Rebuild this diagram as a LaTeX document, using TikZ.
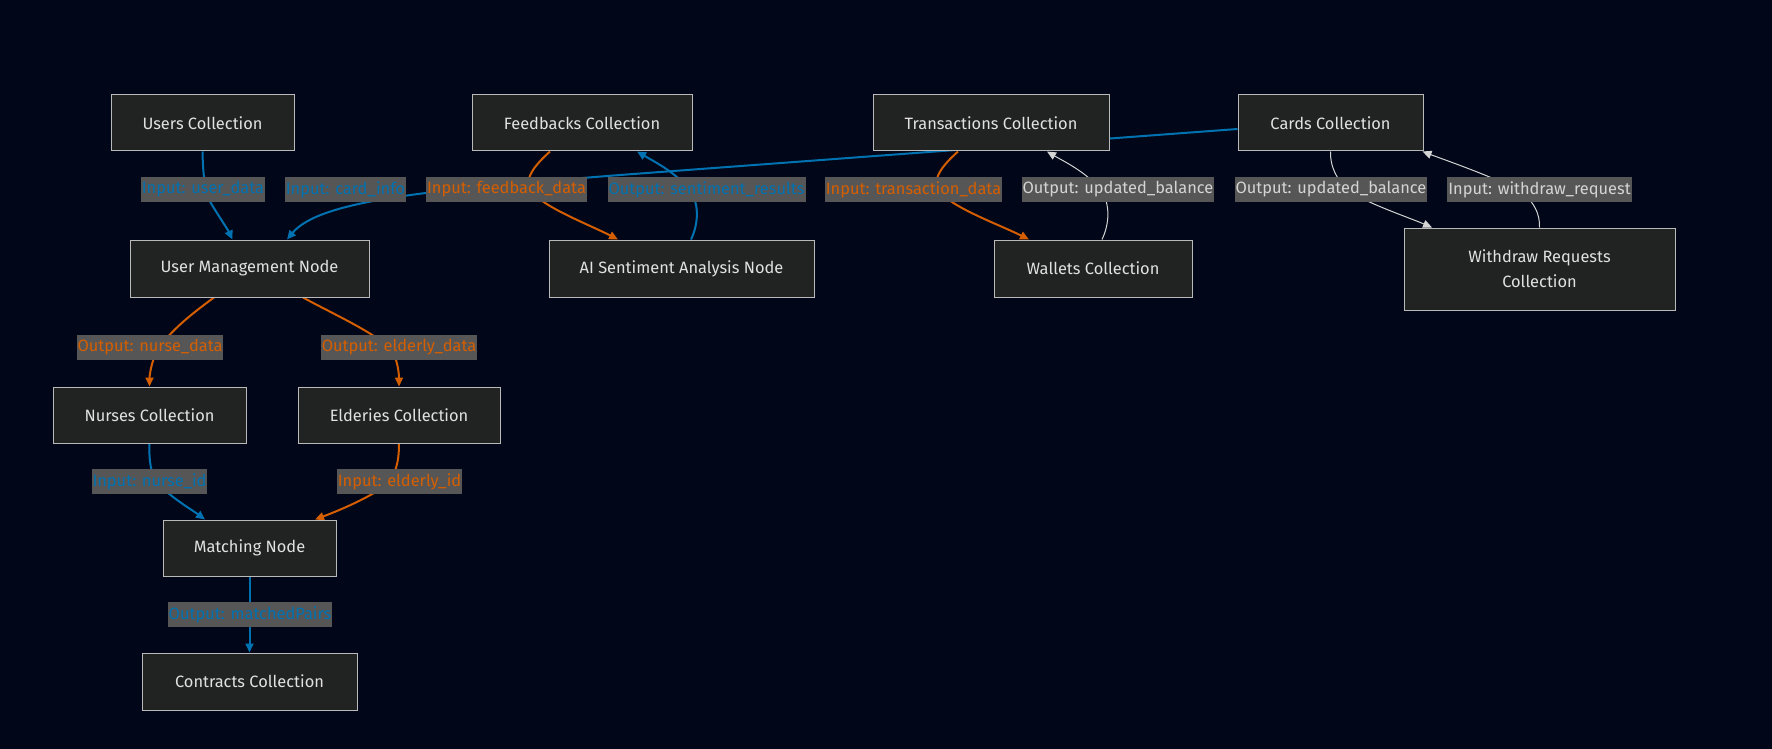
\documentclass[tikz,border=0pt]{standalone}
\usepackage{fontspec}
\setmainfont{Fira Sans}
\usetikzlibrary{arrows.meta}
\definecolor{mmbg}{RGB}{1,7,24}
\definecolor{mmfill}{RGB}{33,34,34}
\definecolor{mmborder}{RGB}{185,185,185}
\definecolor{mmtext}{RGB}{225,225,225}
\definecolor{mmlbl}{RGB}{86,86,86}
\definecolor{mmblue}{RGB}{0,114,178}
\definecolor{mmorange}{RGB}{213,94,0}
\definecolor{mmgray}{RGB}{212,212,212}
\pgfdeclarelayer{back}\pgfdeclarelayer{links}
\pgfsetlayers{back,links,main}

\begin{document}
\begin{tikzpicture}[x=1pt,y=-1pt,font=\fontsize{16.4}{25}\selectfont,
  box/.style={draw=mmborder,line width=1pt,fill=mmfill,text=mmtext,minimum height=56pt,inner sep=0pt,align=center},
  lbl/.style={fill=mmlbl,minimum height=25pt,inner xsep=1pt,inner ysep=0pt},
  link/.style={line width=2pt,-{Triangle[length=9pt,width=8pt]}},
  thinlink/.style={draw=mmgray,line width=1pt,-{Triangle[length=9pt,width=8pt]}}]
  \useasboundingbox (0,0) rectangle (1772,749);
  \begin{pgfonlayer}{back}
    \fill[mmbg] (0,0) rectangle (1772,749);
  \end{pgfonlayer}
  \node[box,minimum width=183pt] (users) at (202.5,123) {Users Collection};
  \node[box,minimum width=220pt] (feed) at (582,123) {Feedbacks Collection};
  \node[box,minimum width=236pt] (trans) at (991,123) {Transactions Collection};
  \node[box,minimum width=185pt] (cards) at (1330.5,123) {Cards Collection};
  \node[box,minimum width=239pt,minimum height=57pt] (um) at (249.5,268.5) {User Management Node};
  \node[box,minimum width=265pt,minimum height=57pt] (ai) at (681.5,268.5) {AI Sentiment Analysis Node};
  \node[box,minimum width=198pt,minimum height=57pt] (wallets) at (1093,268.5) {Wallets Collection};
  \node[box,minimum width=271pt,minimum height=82pt] (withdraw) at (1539.5,269) {Withdraw Requests\\Collection};
  \node[box,minimum width=193pt] (nurses) at (149.5,415) {Nurses Collection};
  \node[box,minimum width=202pt] (elder) at (399,415) {Elderies Collection};
  \node[box,minimum width=173pt] (match) at (249.5,548) {Matching Node};
  \node[box,minimum width=215pt,minimum height=57pt] (contracts) at (249.5,681.5) {Contracts Collection};
  \begin{pgfonlayer}{links}
    \draw[link,mmblue] (users.south) .. controls (203,175) and (205,195) .. (212,205)
      .. controls (220,218) and (228,230) .. ([xshift=-17pt]um.north);
    \draw[link,mmblue] ([yshift=-6pt]cards.west) -- (620,175)
      .. controls (430,190) and (320,200) .. ([xshift=37.5pt]um.north);
    \draw[link,mmorange] ([xshift=-32pt]feed.south) .. controls (535,165) and (522,180) .. (532,192)
      .. controls (545,208) and (590,225) .. ([xshift=-63.5pt]ai.north);
    \draw[link,mmblue] ([xshift=9.5pt]ai.north) .. controls (698,225) and (700,205) .. (690,190)
      .. controls (675,172) and (655,162) .. ([xshift=55pt]feed.south);
    \draw[link,mmorange] ([xshift=-33pt]trans.south) .. controls (943,165) and (930,180) .. (940,192)
      .. controls (953,208) and (1000,225) .. ([xshift=-64pt]wallets.north);
    \draw[thinlink] ([xshift=9pt]wallets.north) .. controls (1109,225) and (1111,205) .. (1101,190)
      .. controls (1086,172) and (1065,162) .. ([xshift=56pt]trans.south);
    \draw[thinlink] (cards.south) .. controls (1330,170) and (1340,185) .. (1355,195)
      .. controls (1380,208) and (1410,218) .. ([xshift=-107.5pt]withdraw.north);
    \draw[thinlink] (withdraw.north) .. controls (1540,215) and (1535,200) .. (1515,188)
      .. controls (1480,172) and (1445,160) .. ([xshift=-1pt]cards.south east);
    \draw[link,mmorange] ([xshift=-35.5pt]um.south) .. controls (190,315) and (165,335) .. (155,355)
      .. controls (150,368) and (149.5,378) .. (nurses.north);
    \draw[link,mmorange] ([xshift=53.5pt]um.south) .. controls (335,315) and (380,335) .. (393,352)
      .. controls (399,365) and (399,378) .. (elder.north);
    \draw[link,mmblue] (nurses.south) .. controls (149,460) and (150,475) .. (160,486)
      .. controls (175,500) and (195,512) .. ([xshift=-44.5pt]match.north);
    \draw[link,mmorange] (elder.south) .. controls (399,462) and (396,475) .. (385,486)
      .. controls (365,500) and (335,512) .. ([xshift=65.5pt]match.north);
    \draw[link,mmblue] (match) -- (contracts);
  \end{pgfonlayer}
  \foreach \i/\pos/\col/\txt in {
      1/{(203,189.5)}/mmblue/{Input: user\_data},
      2/{(345.5,189.5)}/mmblue/{Input: card\_info},
      3/{(506.5,189.5)}/mmorange/{Input: feedback\_data},
      4/{(706.5,189.5)}/mmblue/{Output: sentiment\_results},
      5/{(913.5,189.5)}/mmorange/{Input: transaction\_data},
      6/{(1118,189.5)}/mmgray/{Output: updated\_balance},
      7/{(1331,189.5)}/mmgray/{Output: updated\_balance},
      8/{(1539.5,189.5)}/mmgray/{Input: withdraw\_request},
      9/{(150,347.5)}/mmorange/{Output: nurse\_data},
      10/{(399,347.5)}/mmorange/{Output: elderly\_data},
      11/{(149.5,481.5)}/mmblue/{Input: nurse\_id},
      12/{(399.5,481.5)}/mmorange/{Input: elderly\_id},
      13/{(250,614.5)}/mmblue/{Output: matchedPairs}}
    \node[lbl,text=\col] (l\i) at \pos {\txt};
\end{tikzpicture}
\end{document}
